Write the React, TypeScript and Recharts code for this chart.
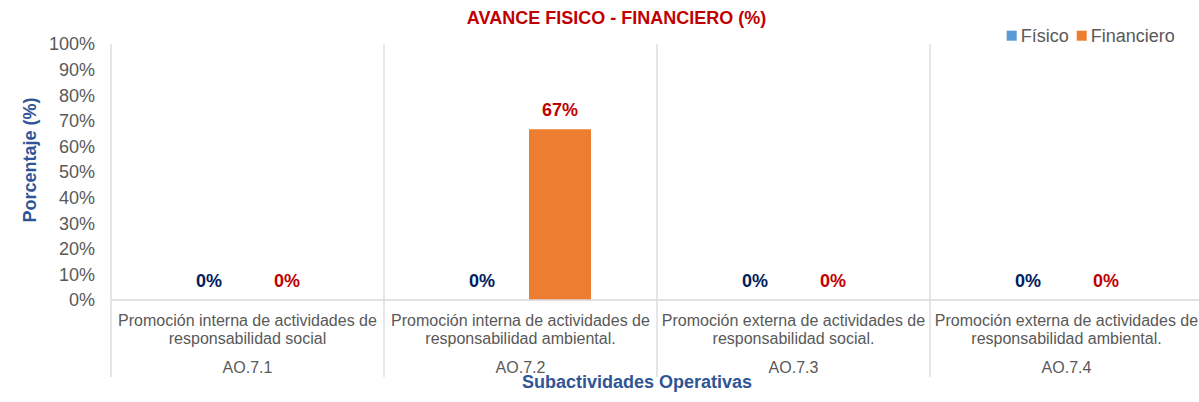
import React from 'react';
import { BarChart, Bar, XAxis, YAxis, LabelList, Legend, Text } from 'recharts';

// ---------- data ----------
const categories = ['AO.7.1', 'AO.7.2', 'AO.7.3', 'AO.7.4'];
const categoryNames = [
  'Promoción interna de actividades de responsabilidad social',
  'Promoción interna de actividades de responsabilidad ambiental.',
  'Promoción externa de actividades de responsabilidad social.',
  'Promoción externa de actividades de responsabilidad ambiental.',
];
const fisico = [0, 0, 0, 0];
const financiero = [0, 66.67, 0, 0];
const yTicks = [0, 10, 20, 30, 40, 50, 60, 70, 80, 90, 100];
const seriesNames = ['Físico', 'Financiero'];
const chartTitle = 'AVANCE FISICO - FINANCIERO (%)';
const xTitle = 'Subactividades Operativas';
const yTitle = 'Porcentaje (%)';

const data = categories.map((code, i) => ({
  code,
  name: categoryNames[i],
  fisico: fisico[i],
  financiero: financiero[i],
}));

// ---------- layout / style ----------
const FONT = '"Liberation Sans", Arial, Helvetica, sans-serif';
const CHART_W = 1210;
const CHART_H = 402;
const PLOT_LEFT = 111;
const PLOT_TOP = 44;
const PLOT_RIGHT = 1203;
const X_AXIS_H = 102;
const BAND = (PLOT_RIGHT - PLOT_LEFT) / categories.length;
const GRID = '#D9D9D9';
const TEXT = '#595959';
const BLUE = '#5B9BD5';
const ORANGE = '#ED7D31';
const TITLE_BLUE = '#2F5597';
const RED = '#C00000';
const NAVY = '#002060';
const LABEL_OFFSET = 13;

const CategoryTick = (props: any) => {
  const { x, payload } = props;
  const i = categories.indexOf(payload.value);
  const left = x - BAND / 2;
  const right = x + BAND / 2;
  return (
    <g>
      <line x1={left} x2={left} y1={PLOT_TOP} y2={377} stroke={GRID} strokeWidth={1.3} />
      {i === categories.length - 1 && (
        <line x1={right} x2={right} y1={PLOT_TOP} y2={377} stroke={GRID} strokeWidth={1.3} />
      )}
      <Text
        x={x}
        y={314.6}
        width={BAND - 2}
        textAnchor="middle"
        verticalAnchor="start"
        lineHeight={18}
        fill={TEXT}
        style={{ fontSize: 16, fontFamily: FONT }}
      >
        {categoryNames[i]}
      </Text>
      <text x={x} y={373} textAnchor="middle" fill={TEXT} style={{ fontSize: 16, fontFamily: FONT }}>
        {payload.value}
      </text>
    </g>
  );
};

const XTitle = (props: any) => {
  const vb = props.viewBox || { x: PLOT_LEFT, width: PLOT_RIGHT - PLOT_LEFT };
  return (
    <text
      x={vb.x + vb.width / 2 - 20}
      y={387.5}
      textAnchor="middle"
      fill={TITLE_BLUE}
      style={{ fontSize: 18, fontWeight: 'bold', fontFamily: FONT }}
    >
      {xTitle}
    </text>
  );
};

const YTitle = () => (
  <text
    x={36}
    y={160}
    transform="rotate(-90, 36, 160)"
    textAnchor="middle"
    fill={TITLE_BLUE}
    style={{ fontSize: 18, fontWeight: 'bold', fontFamily: FONT }}
  >
    {yTitle}
  </text>
);

const legendOffsets = [0, 70];

const LegendContent = (props: any) => {
  const payload = [...(props.payload || [])].sort(
    (a: any, b: any) => seriesNames.indexOf(a.value) - seriesNames.indexOf(b.value)
  );
  return (
    <svg width={200} height={28} style={{ display: 'block' }}>
      {payload.map((entry: any, i: number) => (
        <g key={i} transform={`translate(${6.7 + legendOffsets[i]},0)`}>
          <rect x={0} y={10.7} width={10} height={10} fill={entry.color} />
          <text x={14} y={21.5} fill={TEXT} style={{ fontSize: 18, fontFamily: FONT }}>
            {entry.value}
          </text>
        </g>
      ))}
    </svg>
  );
};

const pct = (v: any) => `${Math.round(Number(v))}%`;

const makeValueLabel = (color: string) => (props: any) => {
  const vb = props.viewBox || props;
  const x = Number(vb.x) + Number(vb.width) / 2;
  const top = Math.min(Number(vb.y), Number(vb.y) + Number(vb.height || 0));
  return (
    <text
      x={x}
      y={top - LABEL_OFFSET}
      textAnchor="middle"
      fill={color}
      style={{ fontSize: 18, fontWeight: 'bold', fontFamily: FONT }}
    >
      {pct(props.value)}
    </text>
  );
};

const FisicoLabel = makeValueLabel(NAVY);
const FinancieroLabel = makeValueLabel(RED);

export default function App() {
  return (
    <div
      style={{
        position: 'absolute',
        left: 0,
        top: 0,
        width: 1199,
        height: 402,
        overflow: 'hidden',
        background: '#fff',
      }}
    >
      <svg width={1199} height={32} style={{ position: 'absolute', left: 0, top: 0, zIndex: 2 }}>
        <text
          x={616.5}
          y={24}
          textAnchor="middle"
          fill={RED}
          style={{ fontSize: 18, fontWeight: 'bold', fontFamily: FONT }}
        >
          {chartTitle}
        </text>
      </svg>
      <BarChart
        width={CHART_W}
        height={CHART_H}
        data={data}
        margin={{ top: PLOT_TOP, right: CHART_W - PLOT_RIGHT, left: 0, bottom: 0 }}
        barGap={16}
        barSize={62}
      >
        <XAxis
          dataKey="code"
          height={X_AXIS_H}
          axisLine={{ stroke: GRID, strokeWidth: 1.3 }}
          tickLine={false}
          tickSize={0}
          tickMargin={0}
          interval={0}
          tick={<CategoryTick />}
          label={<XTitle />}
        />
        <YAxis
          width={PLOT_LEFT}
          domain={[0, 100]}
          ticks={yTicks}
          interval={0}
          axisLine={false}
          tickLine={false}
          tickSize={0}
          tickMargin={16}
          tickFormatter={(v: any) => `${v}%`}
          tick={{ fill: TEXT, fontSize: 18, fontFamily: FONT }}
          label={<YTitle />}
        />
        <Legend
          layout="horizontal"
          verticalAlign="middle"
          align="center"
          wrapperStyle={{ top: 20, left: 1000, width: 200, height: 28 }}
          content={<LegendContent />}
        />
        <Bar
          dataKey="fisico"
          name={seriesNames[0]}
          fill={BLUE}
          minPointSize={0.01}
          isAnimationActive={false}
        >
          <LabelList dataKey="fisico" position="top" content={FisicoLabel} />
        </Bar>
        <Bar
          dataKey="financiero"
          name={seriesNames[1]}
          fill={ORANGE}
          minPointSize={0.01}
          isAnimationActive={false}
        >
          <LabelList dataKey="financiero" position="top" content={FinancieroLabel} />
        </Bar>
      </BarChart>
    </div>
  );
}
